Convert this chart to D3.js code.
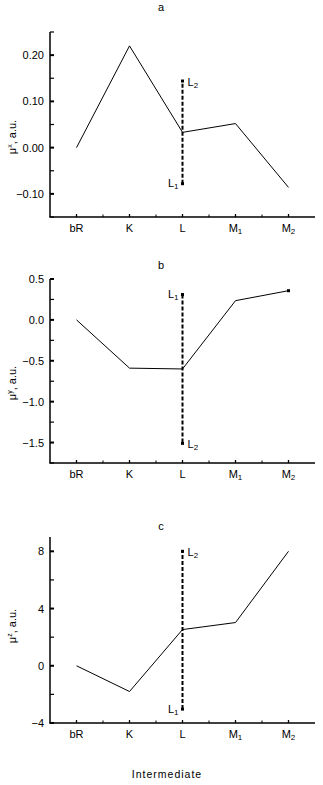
<!DOCTYPE html>
<html lang="en">
<head>
<meta charset="UTF-8">
<title>Dipole moment components</title>
<script src="https://cdnjs.cloudflare.com/ajax/libs/d3/7.8.5/d3.min.js"></script>
<style>
  body { margin: 0; background: #fff; }
  svg text { font-family: "Liberation Sans", Arial, sans-serif; fill: #000; }
</style>
</head>
<body>
<div id="chart"></div>
<script>
// intermediates on the x axis (name, subscript)
var intermediates = ["bR", "K", "L", "M1", "M2"];

// line values per intermediate
var muX = [0.000, 0.220, 0.033, 0.052, -0.086];
var muY = [0.00, -0.59, -0.60, 0.235, 0.357];
var muZ = [0.0, -1.8, 2.53, 3.02, 8.0];

// the L state split in two: [L1, L2]
var splitX = [-0.078, 0.144];
var splitY = [0.31, -1.51];
var splitZ = [-3.03, 8.0];

// axis ticks
var majorX = [-0.10, 0.00, 0.10, 0.20];
var minorX = [-0.15, -0.05, 0.05, 0.15, 0.25];
var majorY = [-1.5, -1.0, -0.5, 0.0, 0.5];
var minorY = [-1.75, -1.25, -0.75, -0.25, 0.25];
var majorZ = [-4, 0, 4, 8];
var minorZ = [-2, 2, 6];

var width = 323, height = 785;
var left = 50, right = 315;

var svg = d3.select("#chart").append("svg")
    .attr("width", width)
    .attr("height", height);

var x = d3.scalePoint()
    .domain(intermediates)
    .range([left, right])
    .padding(0.5);

// half-way ticks between intermediates
var halfTicks = intermediates.slice(1).map(function(d, i) {
    return (x(d) + x(intermediates[i])) / 2;
});

function drawPanel(opt) {
    var y = d3.scaleLinear().domain(opt.domain).range([opt.bottom, opt.top]);
    var g = svg.append("g");

    // title
    g.append("text")
        .attr("x", 161).attr("y", opt.titleY)
        .attr("text-anchor", "middle")
        .style("font-size", "11px")
        .text(opt.title);

    // axes lines
    g.append("line")
        .attr("x1", left).attr("x2", left)
        .attr("y1", opt.top).attr("y2", opt.bottom)
        .attr("stroke", "#000").attr("stroke-width", 1.5);
    g.append("line")
        .attr("x1", left - 0.75).attr("x2", right)
        .attr("y1", opt.bottom).attr("y2", opt.bottom)
        .attr("stroke", "#000").attr("stroke-width", 1.5);

    // y ticks (inside)
    g.selectAll(".ymaj").data(opt.major).enter().append("line")
        .attr("x1", left).attr("x2", left + 4)
        .attr("y1", function(d) { return y(d); })
        .attr("y2", function(d) { return y(d); })
        .attr("stroke", "#000").attr("stroke-width", 2);
    g.selectAll(".ymin").data(opt.minor).enter().append("line")
        .attr("x1", left).attr("x2", left + 4)
        .attr("y1", function(d) { return y(d); })
        .attr("y2", function(d) { return y(d); })
        .attr("stroke", "#000").attr("stroke-width", 1.2);
    g.selectAll(".ylab").data(opt.major).enter().append("text")
        .attr("x", left - 6)
        .attr("y", function(d) { return y(d) + 4; })
        .attr("text-anchor", "end")
        .style("font-size", "11px")
        .text(function(d) { return opt.fmt(d); });

    // x ticks (inside)
    g.selectAll(".xmaj").data(intermediates).enter().append("line")
        .attr("x1", function(d) { return x(d); })
        .attr("x2", function(d) { return x(d); })
        .attr("y1", opt.bottom).attr("y2", opt.bottom - 3)
        .attr("stroke", "#000").attr("stroke-width", 1.3);
    g.selectAll(".xmin").data(halfTicks).enter().append("line")
        .attr("x1", function(d) { return d; })
        .attr("x2", function(d) { return d; })
        .attr("y1", opt.bottom).attr("y2", opt.bottom - 2.5)
        .attr("stroke", "#000").attr("stroke-width", 1);
    var xl = g.selectAll(".xlab").data(intermediates).enter().append("text")
        .attr("x", function(d) { return x(d); })
        .attr("y", opt.bottom + 15)
        .attr("text-anchor", "middle")
        .style("font-size", "11px");
    xl.append("tspan").text(function(d) { return d.charAt(0) === "M" ? "M" : d; });
    xl.filter(function(d) { return d.charAt(0) === "M"; })
        .append("tspan").attr("dy", 2).style("font-size", "8px")
        .text(function(d) { return d.charAt(1); });

    // y label
    var yl = g.append("text")
        .attr("transform", "translate(16," + opt.labelY + ") rotate(-90)")
        .attr("text-anchor", "middle")
        .style("font-size", "11px");
    yl.append("tspan").text("\u03bc");
    yl.append("tspan").attr("dy", -4).style("font-size", "7px").text(opt.comp);
    yl.append("tspan").attr("dy", 4).text(", a.u.");

    // split L: dashed segment with square ends
    var lx = x("L");
    g.append("line")
        .attr("x1", lx).attr("x2", lx)
        .attr("y1", y(opt.split[0])).attr("y2", y(opt.split[1]))
        .attr("stroke", "#000").attr("stroke-width", 2)
        .attr("stroke-dasharray", "4,2");
    g.selectAll(".sq").data(opt.split).enter().append("rect")
        .attr("x", lx - 1.5)
        .attr("y", function(d) { return y(d) - 1.5; })
        .attr("width", 3).attr("height", 3)
        .attr("fill", "#000");

    // split labels: the upper one sits right of its end, or left when it is L1
    opt.split.forEach(function(v, i) {
        var isUpper = v === d3.max(opt.split);
        var onLeft = i === 0;
        var t = g.append("text")
            .attr("x", onLeft ? lx - 4 : lx + 5)
            .attr("y", y(v) + (onLeft ? 3.5 : 4.5))
            .attr("text-anchor", onLeft ? "end" : "start")
            .style("font-size", "11px");
        t.append("tspan").text("L");
        t.append("tspan").attr("dy", 2).style("font-size", "8px").text(i + 1);
    });

    // main line
    var line = d3.line()
        .x(function(d, i) { return x(intermediates[i]); })
        .y(function(d) { return y(d); });
    g.append("path")
        .datum(opt.values)
        .attr("d", line)
        .attr("fill", "none")
        .attr("stroke", "#000")
        .attr("stroke-width", 1);

    if (opt.endMark) {
        var last = opt.values.length - 1;
        g.append("rect")
            .attr("x", x(intermediates[last]) - 1.5)
            .attr("y", y(opt.values[last]) - 1.5)
            .attr("width", 3).attr("height", 3)
            .attr("fill", "#000");
    }
}

drawPanel({
    title: "a", titleY: 11, top: 32, bottom: 217, labelY: 137,
    domain: [-0.15, 0.25], major: majorX, minor: minorX,
    fmt: d3.format(".2f"), comp: "x",
    values: muX, split: splitX, endMark: false
});
drawPanel({
    title: "b", titleY: 269, top: 279, bottom: 463, labelY: 383,
    domain: [-1.75, 0.5], major: majorY, minor: minorY,
    fmt: d3.format(".1f"), comp: "y",
    values: muY, split: splitY, endMark: true
});
drawPanel({
    title: "c", titleY: 530, top: 537, bottom: 723, labelY: 626,
    domain: [-4, 9], major: majorZ, minor: minorZ,
    fmt: d3.format("d"), comp: "z",
    values: muZ, split: splitZ, endMark: false
});

svg.append("text")
    .attr("x", 167).attr("y", 778)
    .attr("text-anchor", "middle")
    .style("font-size", "10.5px")
    .style("letter-spacing", "1px")
    .text("Intermediate");
</script>
</body>
</html>
